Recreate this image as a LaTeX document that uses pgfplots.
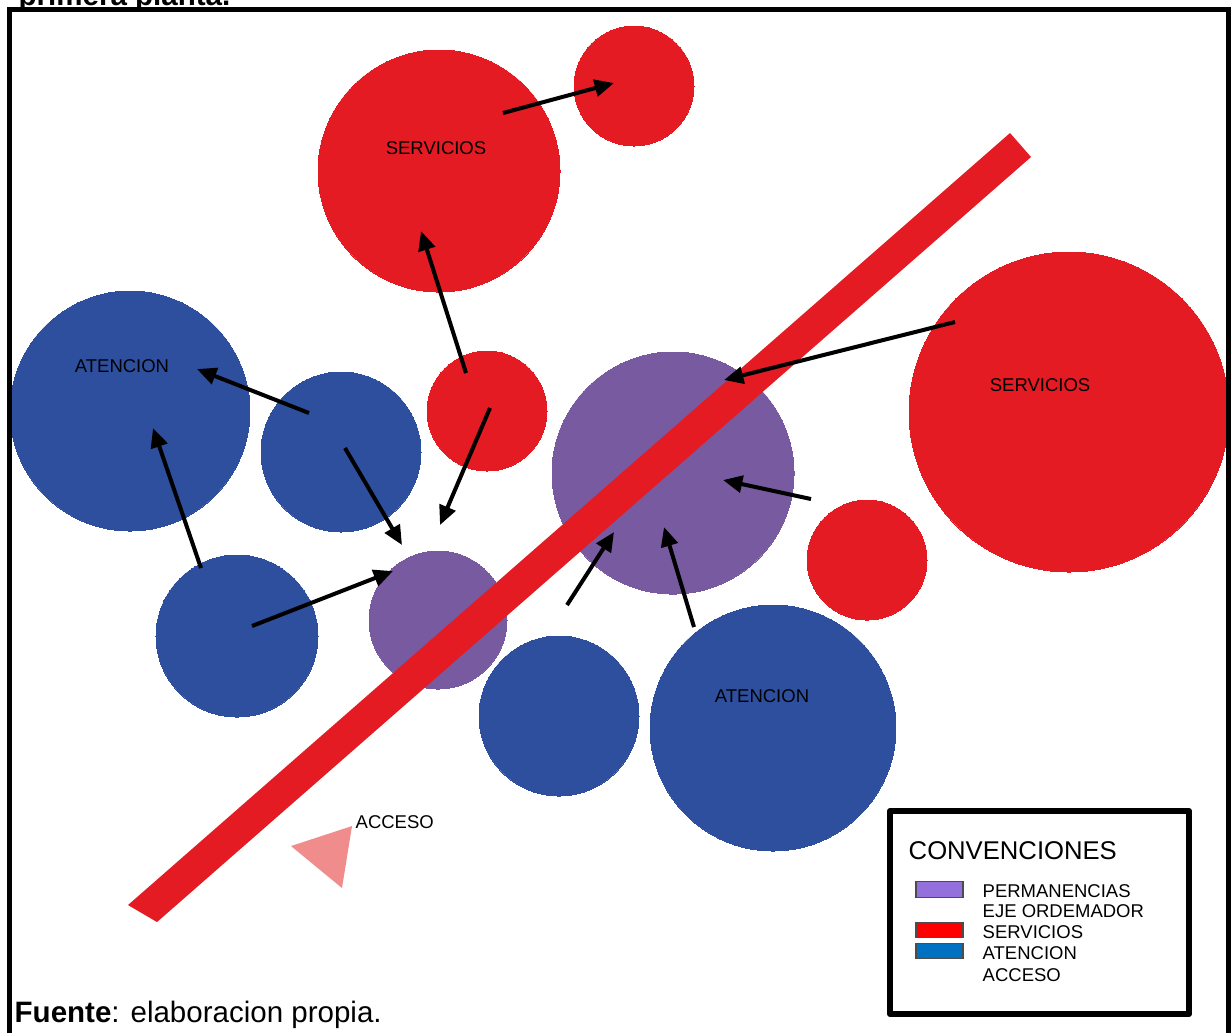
\documentclass[border=0pt]{standalone}
\usepackage{pgfplots}
\pgfplotsset{compat=1.18}
\usepackage{fontspec}
\setmainfont{Liberation Sans}
\usetikzlibrary{arrows.meta}
\definecolor{cred}{RGB}{228,27,35}
\definecolor{cblue}{RGB}{46,79,158}
\definecolor{cpurple}{RGB}{120,90,160}
\definecolor{ctri}{RGB}{240,140,140}
\definecolor{lpurple}{RGB}{147,112,219}
\definecolor{lred}{RGB}{255,0,0}
\definecolor{lblue}{RGB}{0,112,192}
\newcommand{\sm}{\fontsize{5.26}{6}\selectfont}
\pgfplotsset{circ/.style 2 args={only marks, mark=*, mark size=#2, color=#1, mark options={solid, fill=#1, draw=#1, line width=0pt}}}
\begin{document}
\begin{tikzpicture}
\begin{axis}[at={(0,0)}, anchor=south west, width=12.31cm, height=10.32cm, scale only axis,
  xmin=0, xmax=1231, ymin=0, ymax=1032, y dir=reverse, hide axis, clip=false, clip marker paths=true]
% circles (x, y; mark size = radius px * 0.28453pt)
\addplot[circ={cred}{34.43pt}] coordinates {(439,171)};
\addplot[circ={cred}{17.07pt}] coordinates {(634,86)};
\addplot[circ={cblue}{34.14pt}] coordinates {(130,411)};
\addplot[circ={cblue}{22.76pt}] coordinates {(341,452)};
\addplot[circ={cred}{17.07pt}] coordinates {(487,411)};
\addplot[circ={cpurple}{34.43pt}] coordinates {(673,473)};
\addplot[circ={cred}{45.52pt}] coordinates {(1069,412)};
\addplot[circ={cred}{17.07pt}] coordinates {(867,560)};
\addplot[circ={cblue}{23.05pt}] coordinates {(237,636)};
\addplot[circ={cpurple}{19.63pt}] coordinates {(438,620)};
\addplot[circ={cblue}{22.76pt}] coordinates {(559,716)};
\addplot[circ={cblue}{34.99pt}] coordinates {(773,728)};
% diagonal axis bar
\addplot[fill=cred, draw=none] coordinates {(128,905) (157,922) (1031,157) (1010,133)} -- cycle;
% access triangle
\addplot[fill=ctri, draw=none] coordinates {(291,846) (352,826) (342,888)} -- cycle;
% arrows
\addplot[black, line width=1.14pt, -{Triangle[length=5.5pt,width=4.8pt]}] coordinates {(503,113) (614,83)};
\addplot[black, line width=1.14pt, -{Triangle[length=5.5pt,width=4.8pt]}] coordinates {(466,373) (421,231)};
\addplot[black, line width=1.14pt, -{Triangle[length=5.5pt,width=4.8pt]}] coordinates {(490,408) (440,525)};
\addplot[black, line width=1.14pt, -{Triangle[length=5.5pt,width=4.8pt]}] coordinates {(309,413) (197,369)};
\addplot[black, line width=1.14pt, -{Triangle[length=5.5pt,width=4.8pt]}] coordinates {(345,448) (402,545)};
\addplot[black, line width=1.14pt, -{Triangle[length=5.5pt,width=4.8pt]}] coordinates {(201,568) (153,428)};
\addplot[black, line width=1.14pt, -{Triangle[length=5.5pt,width=4.8pt]}] coordinates {(252,626) (393,571)};
\addplot[black, line width=1.14pt, -{Triangle[length=5.5pt,width=4.8pt]}] coordinates {(567,605) (614,532)};
\addplot[black, line width=1.14pt, -{Triangle[length=5.5pt,width=4.8pt]}] coordinates {(694,627) (664,527)};
\addplot[black, line width=1.14pt, -{Triangle[length=5.5pt,width=4.8pt]}] coordinates {(811,499) (723,480)};
\addplot[black, line width=1.14pt, -{Triangle[length=5.5pt,width=4.8pt]}] coordinates {(955,322) (724,380)};
% frame
\addplot[black, line width=1.42pt, line join=miter] coordinates {(9.5,1045) (9.5,9) (1228.5,9) (1228.5,1045)};
% legend box
\addplot[black, fill=white, line width=1.7pt, line join=round] coordinates {(890,811) (1189,811) (1189,1014) (890,1014)} -- cycle;
\addplot[fill=lpurple, draw=black!70, line width=0.3pt] coordinates {(916,881) (963,881) (963,897) (916,897)} -- cycle;
\addplot[fill=lred, draw=black!70, line width=0.3pt] coordinates {(916,922) (963,922) (963,937) (916,937)} -- cycle;
\addplot[fill=lblue, draw=black!70, line width=0.3pt] coordinates {(916,943) (963,943) (963,958) (916,958)} -- cycle;
\node[anchor=base west, inner sep=0pt, font=\fontsize{7.3}{8}\selectfont] at (axis cs:908,859) {CONVENCIONES};
\node[anchor=base west, inner sep=0pt, font=\sm] at (axis cs:982,897) {PERMANENCIAS};
\node[anchor=base west, inner sep=0pt, font=\sm] at (axis cs:982,917) {EJE ORDEMADOR};
\node[anchor=base west, inner sep=0pt, font=\sm] at (axis cs:982,938) {SERVICIOS};
\node[anchor=base west, inner sep=0pt, font=\sm] at (axis cs:982,959) {ATENCION};
\node[anchor=base west, inner sep=0pt, font=\sm] at (axis cs:982,981) {ACCESO};
% labels
\node[anchor=base, inner sep=0pt, font=\sm] at (axis cs:436,154) {SERVICIOS};
\node[anchor=base, inner sep=0pt, font=\sm] at (axis cs:122,372) {ATENCION};
\node[anchor=base, inner sep=0pt, font=\sm] at (axis cs:1040,391) {SERVICIOS};
\node[anchor=base, inner sep=0pt, font=\sm] at (axis cs:762,702) {ATENCION};
\node[anchor=base west, inner sep=0pt, font=\sm] at (axis cs:355,828) {ACCESO};
% title and source
\node[anchor=base west, inner sep=0pt, font=\fontsize{8.4}{10}\selectfont\bfseries] at (axis cs:18,5) {primera planta.};
\node[anchor=base west, inner sep=0pt, font=\fontsize{8.4}{10}\selectfont] at (axis cs:14,1022) {\textbf{Fuente}: elaboracion propia.};
\end{axis}
\pgfresetboundingbox
\useasboundingbox (current axis.south west) rectangle (current axis.north east);
\end{tikzpicture}
\end{document}
